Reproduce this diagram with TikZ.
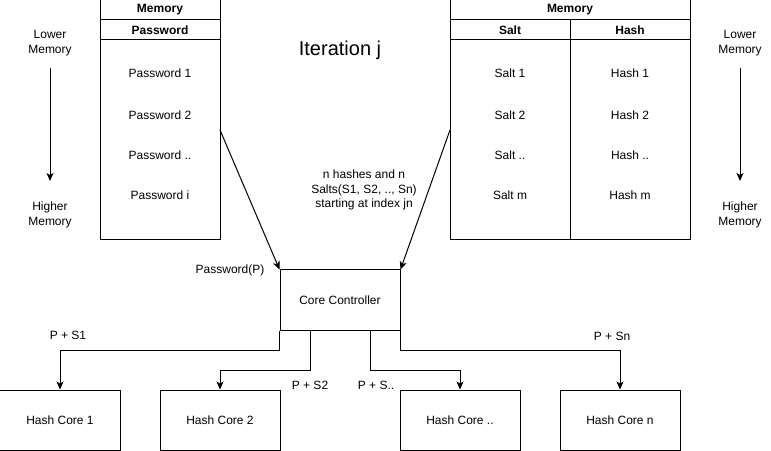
\documentclass[tikz,border=0pt]{standalone}
\usepackage{fontspec}
\setmainfont{Liberation Sans}
\usetikzlibrary{arrows.meta,calc}

\tikzset{
  box/.style={draw, line width=1bp, minimum width=120bp, minimum height=60bp, inner sep=0pt},
  hdr/.style={draw, line width=1bp, minimum height=20bp, inner sep=0pt, font=\fontsize{12bp}{14.4bp}\selectfont\bfseries},
  arr/.style={-{Stealth[length=8bp,width=7bp,inset=2bp]}, line width=1bp},
  lbl/.style={align=center, inner sep=0pt},
}

\begin{document}
\begin{tikzpicture}[x=1bp, y=-1bp, font=\fontsize{12bp}{14.4bp}\selectfont]
	\useasboundingbox (0,0) rectangle (771,451);

	% password memory
	\node[draw, line width=1bp, minimum width=120bp, minimum height=240bp, inner sep=0pt] (memp) at (160,120) {};
	\node[hdr, minimum width=120bp] (memphead) at (160,10) {Memory};
	\node[hdr, minimum width=120bp] (pwhead) at (160,30) {Password};
	\foreach \t/\y [count=\i] in {1/73,2/115,{..}/155,i/195}
	    {
		\node (pw\i) at (160,\y) {Password \t};
	    }

	% salt / hash memory
	\node[draw, line width=1bp, minimum width=240bp, minimum height=240bp, inner sep=0pt] (memsh) at (570,120) {};
	\node[hdr, minimum width=240bp] (memshhead) at (570,10) {Memory};
	\node[hdr, minimum width=120bp] (salthead) at (510,30) {Salt};
	\node[hdr, minimum width=120bp] (hashhead) at (630,30) {Hash};
	\draw[line width=1bp] (salthead.south east) -- (salthead.south east |- memsh.south);
	\foreach \t/\y [count=\i] in {1/73,2/115,{..}/155,m/195}
	    {
		\node (salt\i) at (510,\y) {Salt \t};
		\node (hash\i) at (630,\y) {Hash \t};
	    }

	% memory direction
	\node[lbl] (lowl) at (50,43) {Lower\\Memory};
	\node[lbl] (highl) at (50,215) {Higher\\Memory};
	\node[lbl] (lowr) at (740,43) {Lower\\Memory};
	\node[lbl] (highr) at (740,215) {Higher\\Memory};
	\draw[arr, shorten <=12bp, shorten >=21bp] (lowl) -- (highl);
	\draw[arr, shorten <=12bp, shorten >=21bp] (lowr) -- (highr);

	\node (iter) at (340,50) {\fontsize{20bp}{24bp}\selectfont Iteration j};

	% controller and cores
	\node[box] (cc) at (340,300) {Core Controller};
	\node[box] (hc1) at (60,420) {Hash Core 1};
	\node[box] (hc2) at (220,420) {Hash Core 2};
	\node[box] (hc3) at (460,420) {Hash Core ..};
	\node[box] (hcn) at (620,420) {Hash Core n};

	\coordinate (pwout) at (220,130);
	\coordinate (shout) at (450,130);
	\draw[arr] (pwout) -- (cc.north west);
	\draw[arr] (shout) -- (cc.north east);
	\node (pwlbl) at (230,270) {Password(P)};
	\node[lbl] (shlbl) at (364,190) {n hashes and n\\Salts(S1, S2, .., Sn)\\starting at index jn};

	\draw[arr] (cc.south west) -- ++(0,20) -| (hc1.north);
	\draw[arr] ($(cc.south)+(-30,0)$) -- ++(0,40) -| (hc2.north);
	\draw[arr] ($(cc.south)+(30,0)$) -- ++(0,40) -| (hc3.north);
	\draw[arr] (cc.south east) -- ++(0,20) -| (hcn.north);

	\node (s1) at (68,335) {P + S1};
	\node (s2) at (310,385) {P + S2};
	\node (s3) at (376,385) {P + S..};
	\node (sn) at (612,336) {P + Sn};
\end{tikzpicture}
\end{document}
